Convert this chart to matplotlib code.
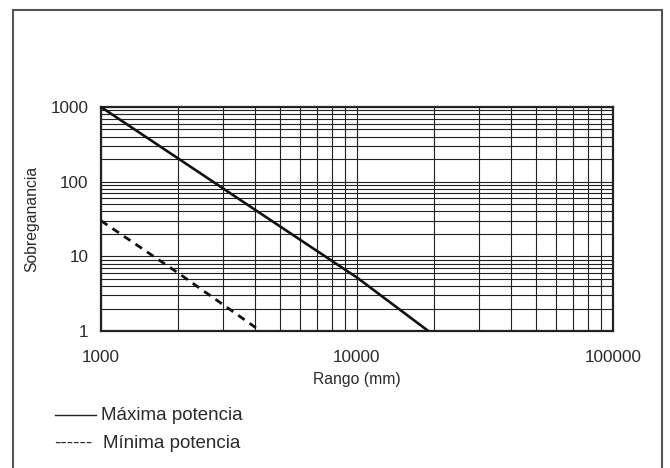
import matplotlib
matplotlib.use("Agg")
import matplotlib.pyplot as plt
from matplotlib.lines import Line2D
from matplotlib.patches import Rectangle
from matplotlib.ticker import FixedLocator, LogLocator, NullFormatter

plt.rcParams['font.family'] = ['Liberation Sans', 'DejaVu Sans']

# data
max_range = [1000, 2000, 4000, 10000, 19000]
max_gain = [1000, 205, 42, 5.2, 1]
min_range = [1000, 2000, 4200]
min_gain = [30, 6, 1]

x_ticks = [1000, 10000, 100000]
x_labels = ["1000", "10000", "100000"]
y_ticks = [1, 10, 100, 1000]
y_labels = ["1", "10", "100", "1000"]

TXT = '#2a2a2a'

fig = plt.figure(figsize=(6.7, 4.68), dpi=100)
ax = fig.add_axes([0.1507, 0.2927, 0.7642, 0.4787])

ax.plot(max_range, max_gain, color='#111111', lw=1.9, solid_capstyle='butt', zorder=3)
ax.plot(min_range, min_gain, color='#111111', lw=2.0, dashes=(2.8, 2.2), zorder=3)

ax.set_xscale('log')
ax.set_yscale('log')
ax.set_xlim(1000, 100000)
ax.set_ylim(1, 1000)

ax.xaxis.set_major_locator(FixedLocator(x_ticks))
ax.set_xticklabels(x_labels)
ax.yaxis.set_major_locator(FixedLocator(y_ticks))
ax.set_yticklabels(y_labels)
ax.xaxis.set_minor_locator(LogLocator(base=10, subs=range(2, 10)))
ax.yaxis.set_minor_locator(LogLocator(base=10, subs=range(2, 10)))
ax.xaxis.set_minor_formatter(NullFormatter())
ax.yaxis.set_minor_formatter(NullFormatter())
ax.tick_params(which='both', length=0, labelsize=12.3, colors=TXT)
ax.tick_params(axis='x', pad=14)
ax.tick_params(axis='y', pad=9)

ax.grid(True, which='both', color='#222222', lw=0.8)
for sp in ax.spines.values():
    sp.set_linewidth(1.6)
    sp.set_color('#222222')

ax.set_xlabel("Rango (mm)", fontsize=11.3, color=TXT, labelpad=5)
ax.set_ylabel("Sobreganancia", fontsize=11.3, color=TXT, labelpad=8)

# legend drawn under the plot
fig.add_artist(Line2D([55/670, 96/670], [1-415/468, 1-415/468], color='#222222', lw=1.0))
fig.text(101/670, 1-415/468, "Máxima potencia", fontsize=13.5, va='center', color=TXT)
fig.text(54/670, 1-443/468, "------", fontsize=13.5, va='center', color=TXT)
fig.text(103/670, 1-443/468, "Mínima potencia", fontsize=13.5, va='center', color=TXT)

# frame round the figure, open at the bottom
fig.add_artist(Rectangle((13/670, -0.05), 649/670, 1.05 - 10/468, transform=fig.transFigure,
                         fill=False, edgecolor='#555555', lw=1.5))

fig.savefig("out.png", dpi=100)
